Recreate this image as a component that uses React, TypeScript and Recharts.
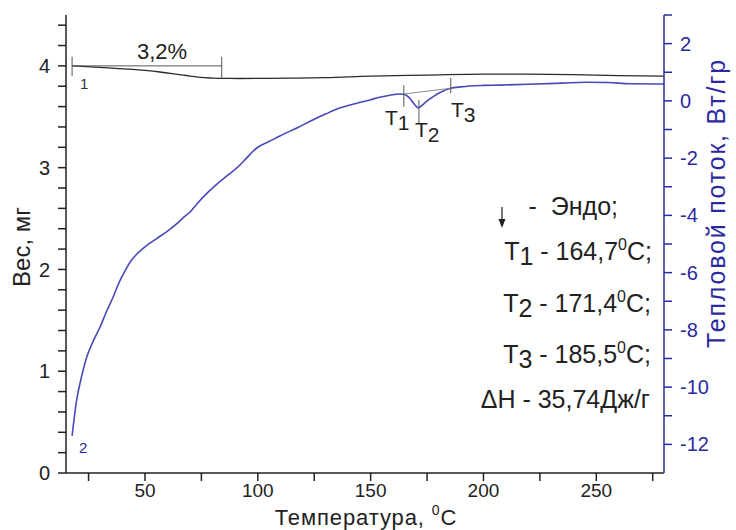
import React from "react";
import {
  ComposedChart,
  Line,
  XAxis,
  YAxis,
  ReferenceLine,
} from "recharts";

if (typeof document !== "undefined") {
  document.body.style.margin = "0";
}

// Mass curve (curve 1, left axis, mg)
const massTemps = [17.7, 22, 30, 37, 44.7, 50, 56.6, 62, 66.9, 70, 74.4, 80, 84, 92, 101, 115, 130, 150, 175, 200, 220, 240, 260, 280];
const massValues = [4.0, 3.995, 3.985, 3.975, 3.965, 3.955, 3.94, 3.925, 3.91, 3.9, 3.887, 3.88, 3.877, 3.876, 3.877, 3.88, 3.885, 3.9, 3.91, 3.92, 3.92, 3.915, 3.905, 3.9];

// Heat flow curve (curve 2, right axis, W/g)
const hfTemps = [17.7, 19.7, 22, 24.2, 27, 30.1, 33, 35.9, 38.5, 41.1, 43.5, 46.3, 50, 55.2, 60, 64, 67, 70, 73, 77.3, 82, 87, 92.1, 95, 98, 100, 105, 110, 118, 125, 130, 136, 142, 146, 150, 154, 158, 163, 165, 167, 169, 171.2, 173, 175, 177.6, 181, 185.5, 190, 194, 200, 207, 220, 235, 245, 255, 265, 280];
const hfValues = [-11.7, -10.46, -9.6, -8.95, -8.4, -7.9, -7.35, -6.85, -6.35, -5.95, -5.62, -5.36, -5.1, -4.81, -4.55, -4.3, -4.08, -3.88, -3.6, -3.24, -2.9, -2.58, -2.24, -2.0, -1.75, -1.62, -1.42, -1.22, -0.92, -0.64, -0.46, -0.26, -0.12, -0.04, 0.04, 0.13, 0.19, 0.24, 0.22, 0.12, -0.08, -0.24, -0.14, 0.0, 0.14, 0.3, 0.44, 0.49, 0.52, 0.54, 0.55, 0.58, 0.62, 0.65, 0.64, 0.6, 0.59];

// Characteristic temperatures
const T1 = 164.7;
const T2 = 171.4;
const T3 = 185.5;
const hfAtT1 = 0.24;
const hfAtT3 = 0.44;

// Mass-loss bracket (3,2%)
const bracketStart = 17.7;
const bracketEnd = 84;
const bracketLevel = 4.0;

// Ticks
const xTicks = [25, 50, 75, 100, 125, 150, 175, 200, 225, 250, 275];
const leftTicks = [0, 0.2, 0.4, 0.6, 0.8, 1, 1.2, 1.4, 1.6, 1.8, 2, 2.2, 2.4, 2.6, 2.8, 3, 3.2, 3.4, 3.6, 3.8, 4, 4.2, 4.4];
const rightTicks = [-12, -11, -10, -9, -8, -7, -6, -5, -4, -3, -2, -1, 0, 1, 2, 3];

const massData = massTemps.map((t, i) => ({ t, m: massValues[i] }));
const hfData = hfTemps.map((t, i) => ({ t, h: hfValues[i] }));

const FONT = "'Liberation Sans', Arial, sans-serif";
const BLUE_AXIS = "#2a2aa0";
const BLUE_LINE = "#4848b8";
const DARK = "#222";

const isInt = (v: number) => Math.abs(v - Math.round(v)) < 1e-6;

export default function App() {
  return (
    <div style={{ position: "relative", width: 736, height: 530, background: "#fff" }}>
      <ComposedChart
        width={736}
        height={530}
        margin={{ top: 15, right: 0, bottom: 0, left: 0 }}
      >
        <XAxis
          xAxisId="bottom"
          dataKey="t"
          type="number"
          domain={[15, 280]}
          ticks={xTicks}
          allowDataOverflow
          height={57}
          tickSize={8}
          tickMargin={3}
          tickFormatter={(v: number) => (v % 50 === 0 ? String(v) : "")}
          tick={{ fill: DARK, fontSize: 19, fontFamily: FONT }}
          stroke={DARK}
          axisLine={{ stroke: DARK, strokeWidth: 1.5 }}
          tickLine={{ stroke: DARK, strokeWidth: 1.5 }}
        />
        <XAxis
          xAxisId="top"
          orientation="top"
          dataKey="t"
          type="number"
          domain={[15, 280]}
          height={0}
          tick={false}
          tickLine={false}
          axisLine={{ stroke: "#333", strokeWidth: 1.5 }}
        />
        <YAxis
          yAxisId="left"
          type="number"
          domain={[0, 4.5]}
          ticks={leftTicks}
          allowDataOverflow
          width={66}
          tickSize={8}
          tickMargin={8}
          tickFormatter={(v: number) => (isInt(v) ? String(Math.round(v)) : "")}
          tick={{ fill: DARK, fontSize: 20, fontFamily: FONT }}
          axisLine={{ stroke: DARK, strokeWidth: 1.5 }}
          tickLine={{ stroke: DARK, strokeWidth: 1.5 }}
        />
        <YAxis
          yAxisId="right"
          orientation="right"
          type="number"
          domain={[-13, 3]}
          ticks={rightTicks}
          allowDataOverflow
          width={72}
          tickSize={8}
          tickMargin={8}
          tickFormatter={(v: number) => (Math.round(v) % 2 === 0 ? String(v) : "")}
          tick={{ fill: BLUE_AXIS, fontSize: 20, fontFamily: FONT }}
          axisLine={{ stroke: BLUE_AXIS, strokeWidth: 1.5 }}
          tickLine={{ stroke: BLUE_AXIS, strokeWidth: 1.5 }}
        />

        <Line
          xAxisId="bottom"
          yAxisId="left"
          data={massData}
          dataKey="m"
          type="monotone"
          stroke="#2a2a2a"
          strokeWidth={1.3}
          dot={false}
          isAnimationActive={false}
        />
        <Line
          xAxisId="bottom"
          yAxisId="right"
          data={hfData}
          dataKey="h"
          type="monotone"
          stroke={BLUE_LINE}
          strokeWidth={1.6}
          dot={false}
          isAnimationActive={false}
        />

        {/* 3,2% bracket */}
        <ReferenceLine
          xAxisId="bottom"
          yAxisId="left"
          segment={[{ x: bracketStart, y: bracketLevel }, { x: bracketEnd, y: bracketLevel }]}
          stroke="#555"
          strokeWidth={1}
          ifOverflow="visible"
        />
        <ReferenceLine
          xAxisId="bottom"
          yAxisId="left"
          segment={[{ x: bracketStart, y: 3.9 }, { x: bracketStart, y: 4.09 }]}
          stroke="#555"
          strokeWidth={1}
          ifOverflow="visible"
        />
        <ReferenceLine
          xAxisId="bottom"
          yAxisId="left"
          segment={[{ x: bracketEnd, y: 3.87 }, { x: bracketEnd, y: 4.09 }]}
          stroke="#555"
          strokeWidth={1}
          ifOverflow="visible"
        />

        {/* baseline T1-T3 */}
        <ReferenceLine
          xAxisId="bottom"
          yAxisId="right"
          segment={[{ x: T1, y: hfAtT1 }, { x: T3, y: hfAtT3 }]}
          stroke="#8a8a8a"
          strokeWidth={1}
          ifOverflow="visible"
        />
        {/* T markers */}
        <ReferenceLine
          xAxisId="bottom"
          yAxisId="right"
          segment={[{ x: T1, y: 0.55 }, { x: T1, y: -0.21 }]}
          stroke="#555"
          strokeWidth={1}
          ifOverflow="visible"
        />
        <ReferenceLine
          xAxisId="bottom"
          yAxisId="right"
          segment={[{ x: T2, y: 0.03 }, { x: T2, y: -0.78 }]}
          stroke="#555"
          strokeWidth={1}
          ifOverflow="visible"
        />
        <ReferenceLine
          xAxisId="bottom"
          yAxisId="right"
          segment={[{ x: T3, y: 0.8 }, { x: T3, y: 0.27 }]}
          stroke="#555"
          strokeWidth={1}
          ifOverflow="visible"
        />
      </ComposedChart>

      <svg
        width={736}
        height={530}
        style={{ position: "absolute", left: 0, top: 0, pointerEvents: "none" }}
        fontFamily={FONT}
      >
        <text x={162} y={59} fontSize={22} textAnchor="middle" fill="#222">3,2%</text>
        <text x={80} y={89} fontSize={15} fill="#333">1</text>
        <text x={79} y={453} fontSize={15} fill={BLUE_AXIS}>2</text>

        <text x={385} y={125} fontSize={21} fill="#222">T<tspan dy={5}>1</tspan></text>
        <text x={415} y={137} fontSize={21} fill="#222">T<tspan dy={5}>2</tspan></text>
        <text x={451} y={117} fontSize={21} fill="#222">T<tspan dy={5}>3</tspan></text>

        {/* Endo arrow */}
        <line x1={502} y1={207} x2={502} y2={221} stroke="#222" strokeWidth={1.2} />
        <polygon points="498.5,219 505.5,219 502,228" fill="#222" />
        <text x={618} y={215} fontSize={25} textAnchor="end" fill="#222" style={{ whiteSpace: "pre" }}>-  Эндо;</text>

        <text x={652} y={260} fontSize={25} textAnchor="end" fill="#222" style={{ whiteSpace: "pre" }}>
          T<tspan dy={5}>1</tspan><tspan dy={-5}> - 164,7</tspan><tspan dy={-10} fontSize={16}>0</tspan><tspan dy={10}>C;</tspan>
        </text>
        <text x={651} y={312} fontSize={25} textAnchor="end" fill="#222" style={{ whiteSpace: "pre" }}>
          T<tspan dy={5}>2</tspan><tspan dy={-5}> - 171,4</tspan><tspan dy={-10} fontSize={16}>0</tspan><tspan dy={10}>C;</tspan>
        </text>
        <text x={651} y={363} fontSize={25} textAnchor="end" fill="#222" style={{ whiteSpace: "pre" }}>
          T<tspan dy={5}>3</tspan><tspan dy={-5}> - 185,5</tspan><tspan dy={-10} fontSize={16}>0</tspan><tspan dy={10}>C;</tspan>
        </text>
        <text x={650} y={408} fontSize={25} textAnchor="end" fill="#222">ΔH - 35,74Дж/г</text>

        {/* Axis titles */}
        <text transform="translate(22,247) rotate(-90)" dy="0.35em" fontSize={24} textAnchor="middle" fill="#222">Вес, мг</text>
        <text x={366} y={525} fontSize={22} letterSpacing={0.9} textAnchor="middle" fill="#222">
          Температура, <tspan dy={-10} fontSize={14}>0</tspan><tspan dy={10}>C</tspan>
        </text>
        <text transform="translate(716,203) rotate(-90)" dy="0.35em" fontSize={25} letterSpacing={1.8} textAnchor="middle" fill={BLUE_AXIS}>Тепловой поток, Вт/гр</text>
      </svg>
    </div>
  );
}
